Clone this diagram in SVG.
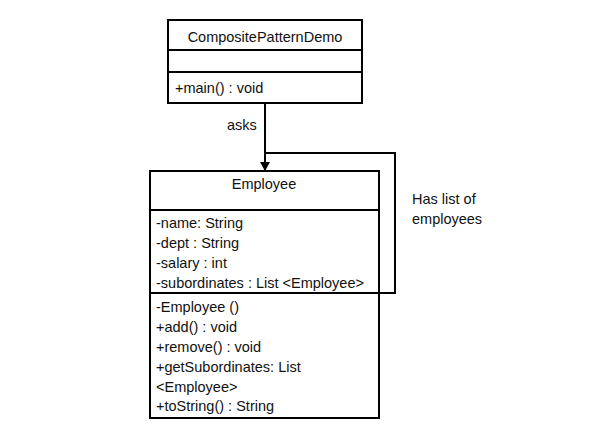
<svg xmlns="http://www.w3.org/2000/svg" width="614" height="441" viewBox="0 0 614 441">
<defs>
<style>
text{font-family:"Liberation Sans","Open Sans",sans-serif;font-size:14.5px;fill:#111}
.box{fill:#fff;stroke:#000;stroke-width:2}
.ln{stroke:#000;stroke-width:2;fill:none}
.c{text-anchor:middle}
</style>
<marker id="ah" markerWidth="10" markerHeight="10" refX="8" refY="5" orient="auto" markerUnits="userSpaceOnUse">
<path d="M0,0 L9,5 L0,10 Z" fill="#000"/>
</marker>
</defs>
<rect width="614" height="441" fill="#fff"/>
<g id="connectors">
<path class="ln" d="M265,103 V170" marker-end="url(#ah)"/>
<path class="ln" d="M265,153 H395 V293 H379"/>
<text x="227" y="130">asks</text>
<text x="412" y="204">Has list of</text>
<text x="412" y="224">employees</text>
</g>
<g id="CompositePatternDemo">
<rect class="box" x="168" y="20" width="194" height="83"/>
<line class="ln" x1="168" y1="50" x2="362" y2="50"/>
<line class="ln" x1="168" y1="72" x2="362" y2="72"/>
<text class="c" x="265" y="42">CompositePatternDemo</text>
<text x="175" y="93">+main() : void</text>
</g>
<g id="Employee">
<rect class="box" x="150" y="171" width="229" height="247"/>
<line class="ln" x1="150" y1="210" x2="379" y2="210"/>
<line class="ln" x1="150" y1="293" x2="379" y2="293"/>
<text class="c" x="264" y="189">Employee</text>
<text x="156" y="228">-name:  String</text>
<text x="156" y="248">-dept : String</text>
<text x="156" y="268">-salary : int</text>
<text x="156" y="288">-subordinates  : List &lt;Employee&gt;</text>
<text x="156" y="312">-Employee  ()</text>
<text x="156" y="332">+add() : void</text>
<text x="156" y="352">+remove()  : void</text>
<text x="156" y="372">+getSubordinates:  List</text>
<text x="156" y="392">&lt;Employee&gt;</text>
<text x="156" y="411">+toString()  : String</text>
</g>
</svg>
